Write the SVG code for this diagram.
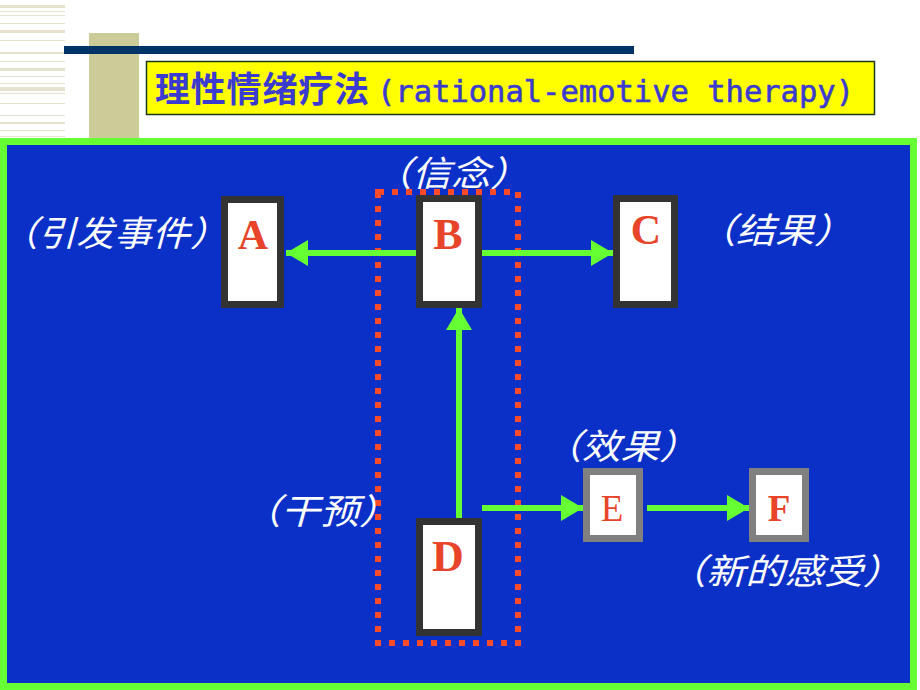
<svg xmlns="http://www.w3.org/2000/svg" width="920" height="690" viewBox="0 0 920 690">
<defs>
<style>
.stripe{fill:#e6e2cc}
.frame{fill:#ffffff;stroke:#333333;stroke-width:7}
.frame2{fill:#ffffff;stroke:#808080;stroke-width:7}
.let{font-family:"Liberation Serif","Times New Roman",serif;font-weight:bold;fill:#e8442a;text-anchor:middle}
.lbl{font-family:"Noto Sans CJK SC",sans-serif;font-style:italic;fill:#ffffff;font-size:35px}
.conn{stroke:#66ff33;stroke-width:6;fill:none}
</style>
<marker id="ah" viewBox="0 0 22 26" refX="22" refY="13" markerWidth="22" markerHeight="26" markerUnits="userSpaceOnUse" orient="auto">
<path d="M0,0 L22,13 L0,26 Z" fill="#66ff33"/>
</marker>
</defs>
<rect width="920" height="690" fill="#ffffff"/>
<g id="stripes">
<rect class="stripe" x="0" y="5" width="65" height="3"/>
<rect class="stripe" x="0" y="11" width="65" height="1"/>
<rect class="stripe" x="0" y="15" width="65" height="1"/>
<rect class="stripe" x="0" y="23" width="65" height="1"/>
<rect class="stripe" x="0" y="30" width="65" height="3"/>
<rect class="stripe" x="0" y="40" width="65" height="1"/>
<rect class="stripe" x="0" y="52" width="65" height="2"/>
<rect class="stripe" x="0" y="61" width="65" height="1"/>
<rect class="stripe" x="0" y="68" width="65" height="3"/>
<rect class="stripe" x="0" y="76" width="65" height="1"/>
<rect class="stripe" x="0" y="83" width="65" height="1"/>
<rect class="stripe" x="0" y="87" width="65" height="4"/>
<rect class="stripe" x="0" y="93" width="65" height="1"/>
<rect class="stripe" x="0" y="103" width="65" height="1"/>
<rect class="stripe" x="0" y="115" width="65" height="1"/>
<rect class="stripe" x="0" y="122" width="65" height="2"/>
<rect class="stripe" x="0" y="130" width="65" height="1"/>
<rect class="stripe" x="0" y="136" width="65" height="1"/>
</g>
<rect x="89" y="33" width="50" height="106" fill="#cccc99"/>
<rect x="64" y="46" width="570" height="8" fill="#003366"/>
<g id="title">
<rect x="146.5" y="61.5" width="728" height="53" fill="#ffff00" stroke="#1a3a1a" stroke-width="1.5"/>
<text x="155" y="102" font-family="Noto Sans CJK SC,sans-serif" font-weight="bold" font-size="35" fill="#3b3bd0" textLength="214" lengthAdjust="spacing">理性情绪疗法</text>
<text x="377" y="102" font-family="DejaVu Sans Mono,Liberation Mono,monospace" font-size="30" fill="#3b3bd0" stroke="#3b3bd0" stroke-width="0.6" textLength="477" lengthAdjust="spacingAndGlyphs">(rational-emotive therapy)</text>
</g>
<rect x="3.5" y="141.5" width="910" height="545" fill="#0a30c8" stroke="#66ff33" stroke-width="7"/>
<g id="group-dotted">
<rect x="378" y="192" width="140" height="451" fill="none" stroke="#ff4a2a" stroke-width="6" stroke-dasharray="6 8"/>
</g>
<g id="connectors">
<line class="conn" x1="416" y1="253" x2="286" y2="253" marker-end="url(#ah)"/>
<line class="conn" x1="482" y1="253" x2="613" y2="253" marker-end="url(#ah)"/>
<line class="conn" x1="459" y1="518" x2="459" y2="308" marker-end="url(#ah)"/>
<line class="conn" x1="482" y1="508" x2="583" y2="508" marker-end="url(#ah)"/>
<line class="conn" x1="647" y1="508" x2="749" y2="508" marker-end="url(#ah)"/>
</g>
<g id="node-A">
<rect class="frame" x="224.5" y="199.5" width="56" height="105"/>
<text class="let" x="253" y="249" font-size="42">A</text>
</g>
<g id="node-B">
<rect class="frame" x="419.5" y="198.5" width="59" height="106"/>
<text class="let" x="448" y="249" font-size="44">B</text>
</g>
<g id="node-C">
<rect class="frame" x="616.5" y="198.5" width="58" height="106"/>
<text class="let" x="646" y="244" font-size="42">C</text>
</g>
<g id="node-D">
<rect class="frame" x="419.5" y="521.5" width="59" height="111"/>
<text class="let" x="448" y="571" font-size="44">D</text>
</g>
<g id="node-E">
<rect class="frame2" x="586.5" y="471.5" width="53" height="67"/>
<text x="612" y="521" font-family="Liberation Serif,serif" font-size="37" fill="#e8442a" text-anchor="middle">E</text>
</g>
<g id="node-F">
<rect class="frame2" x="752.5" y="471.5" width="53" height="67"/>
<text class="let" x="779" y="521" font-size="37">F</text>
</g>
<g id="labels">
<text class="lbl" x="0" y="246" textLength="228" lengthAdjust="spacingAndGlyphs">（引发事件）</text>
<text class="lbl" x="373" y="186" textLength="156" lengthAdjust="spacingAndGlyphs">（信念）</text>
<text class="lbl" x="697" y="243" textLength="156" lengthAdjust="spacingAndGlyphs">（结果）</text>
<text class="lbl" x="242" y="524" textLength="156" lengthAdjust="spacingAndGlyphs">（干预）</text>
<text class="lbl" x="543" y="459" textLength="155" lengthAdjust="spacingAndGlyphs">（效果）</text>
<text class="lbl" x="667" y="584" textLength="235" lengthAdjust="spacingAndGlyphs">（新的感受）</text>
</g>
</svg>
